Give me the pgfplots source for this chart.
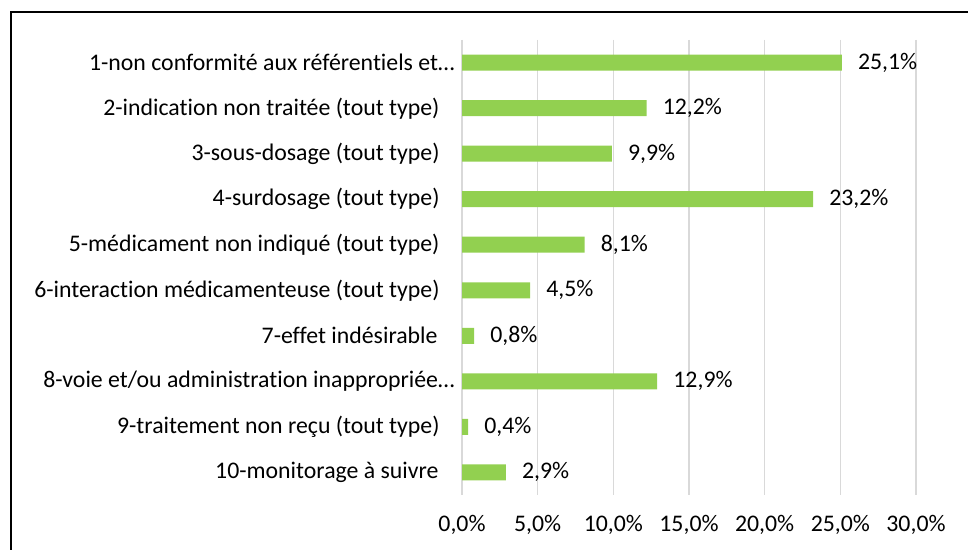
\documentclass[border=0pt]{standalone}
\usepackage{pgfplots}
\pgfplotsset{compat=1.18}
\usepackage{fontspec}
\setmainfont{Carlito}[Ligatures={NoCommon}]
\definecolor{bargreen}{HTML}{92D050}
\definecolor{gridgray}{HTML}{D9D9D9}
\begin{document}
\begin{tikzpicture}
\path[use as bounding box] (0,0) rectangle (968bp,550bp);
\begin{scope}
\clip (0,0) rectangle (968bp,550bp);
\draw[line width=2bp, black] (11bp,538bp) rectangle (990bp,-20bp);
\end{scope}
\begin{axis}[
  at={(462bp,55bp)}, anchor=south west,
  scale only axis, width=454bp, height=455bp,
  xmin=0, xmax=30, ymin=-0.5, ymax=9.5, y dir=reverse,
  xbar, bar width=16bp,
  axis line style={draw=none},
  tick style={draw=none},
  xtick={0,5,...,30}, ytick={0,...,9},
  xmajorgrids, major grid style={gridgray, line width=1.5bp},
  /pgf/number format/assume math mode=true,
  xticklabel={\pgfmathprintnumber[fixed,fixed zerofill,precision=1,use comma]{\tick}\%},
  xticklabel style={anchor=center, inner sep=0pt, yshift=-30bp, font=\fontsize{23.8bp}{26bp}\selectfont},
  yticklabels={
    {1-non conformité aux référentiels et…},
    {2-indication non traitée (tout type)\kern15bp},
    {3-sous-dosage (tout type)\kern15bp},
    {4-surdosage (tout type)\kern15bp},
    {5-médicament non indiqué (tout type)\kern15bp},
    {6-interaction médicamenteuse (tout type)\kern15bp},
    {7-effet indésirable\kern17bp},
    {8-voie et/ou administration inappropriée…},
    {9-traitement non reçu (tout type)\kern15bp},
    {10-monitorage à suivre\kern16bp}},
  yticklabel style={anchor=east, inner sep=0pt, xshift=-3bp, font=\fontsize{23.8bp}{26bp}\selectfont, text=black},
  nodes near coords={\pgfmathprintnumber[fixed,fixed zerofill,precision=1,use comma]{\pgfplotspointmeta}\%},
  nodes near coords style={anchor=west, inner sep=0pt, xshift=16bp, font=\fontsize{23.8bp}{26bp}\selectfont, text=black},
]
\addplot[fill=bargreen, draw=none] table[x=v, y=i] {
i v
0 25.1
1 12.2
2 9.9
3 23.2
4 8.1
5 4.5
6 0.8
7 12.9
8 0.4
9 2.9
};
\end{axis}
\end{tikzpicture}
\end{document}
